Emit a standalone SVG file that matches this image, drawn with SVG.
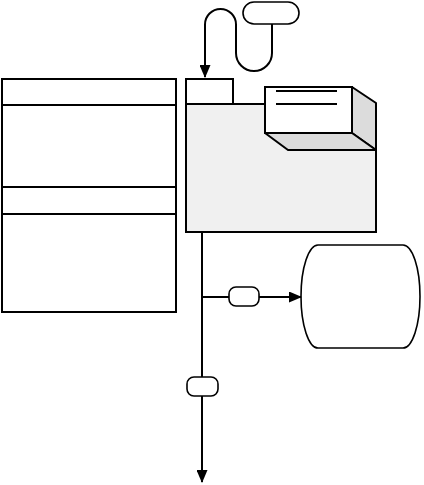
<svg xmlns="http://www.w3.org/2000/svg" width="424" height="485" viewBox="0 0 424 485">
<style>
.s{fill:#fff;stroke:#000;stroke-width:2}
.p{fill:#fff;stroke:#000;stroke-width:1.6}
.c{fill:none;stroke:#000;stroke-width:2}
</style>
<defs>
<marker id="ah" markerWidth="13" markerHeight="11" refX="12" refY="5.5" orient="auto" markerUnits="userSpaceOnUse">
<path d="M0,0 L13,5.5 L0,11 Z" fill="#000"/>
</marker>
</defs>
<rect width="424" height="485" fill="#fff"/>
<g id="table">
<rect class="s" x="2" y="79" width="174" height="233"/>
<line class="c" x1="2" y1="105" x2="176" y2="105"/>
<line class="c" x1="2" y1="187" x2="176" y2="187"/>
<line class="c" x1="2" y1="214" x2="176" y2="214"/>
</g>
<g id="folder">
<rect class="s" x="186" y="79" width="47" height="25"/>
<rect x="186" y="104" width="190" height="128" fill="#f0f0f0" stroke="#000" stroke-width="2"/>
</g>
<g id="box3d">
<polygon points="352,87 376,103 376,150 352,133" fill="#dcdcdc" stroke="#000" stroke-width="2" stroke-linejoin="round"/>
<polygon points="265,133 352,133 376,150 288,150" fill="#dcdcdc" stroke="#000" stroke-width="2" stroke-linejoin="round"/>
<rect class="s" x="265" y="87" width="87" height="46"/>
<line class="c" x1="276" y1="91" x2="337" y2="91"/>
<line class="c" x1="276" y1="104" x2="337" y2="104"/>
</g>
<g id="drum">
<path class="p" d="M318,245 H403 A17,51.5 0 0 1 403,348 H318 A17,51.5 0 0 1 318,245 Z"/>
</g>
<g id="connectors">
<path class="c" d="M272,24 V53 A18,18 0 0 1 236,53 V24.5 A15.5,15.5 0 0 0 205,24.5 V77" marker-end="url(#ah)"/>
<line class="c" x1="202" y1="232" x2="202" y2="482" marker-end="url(#ah)"/>
<line class="c" x1="202" y1="297" x2="301" y2="297" marker-end="url(#ah)"/>
</g>
<g id="pill-top"><rect class="p" x="243" y="2" width="56" height="22" rx="11"/></g>
<g id="pill-mid"><rect class="p" x="229" y="287" width="30" height="19" rx="7"/></g>
<g id="pill-low"><rect class="p" x="187" y="377" width="31" height="19" rx="7"/></g>
</svg>
